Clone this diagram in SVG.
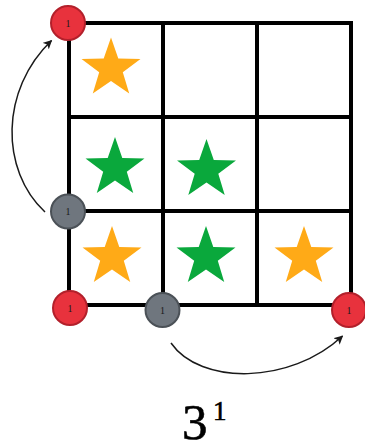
<svg xmlns="http://www.w3.org/2000/svg" width="365" height="444" viewBox="0 0 365 444">
<defs>
<style>
.grid{fill:none;stroke:#000;stroke-width:4;stroke-linecap:square}
.orange{fill:#FFAA17}
.green{fill:#0AA83C}
.red{fill:#E8323D;stroke:#B3202B;stroke-width:2}
.gray{fill:#6F767E;stroke:#4B5157;stroke-width:2}
.lbl{font-family:"Liberation Serif",serif;font-size:10px;fill:#1a1a1a;text-anchor:middle}
.arc{fill:none;stroke:#1a1a1a;stroke-width:1.5;marker-end:url(#ah)}
.cap{font-family:"Liberation Serif",serif;fill:#000;stroke:#000;stroke-width:0.6}
</style>
<marker id="ah" viewBox="0 0 10 10" refX="9" refY="5" markerWidth="9" markerHeight="9" markerUnits="userSpaceOnUse" orient="auto">
<path d="M0,0 L10,5 L0,10 L2.5,5 Z" fill="#1a1a1a"/>
</marker>
<path id="star" d="M0,-31 L7.29,-10.03 L29.48,-9.58 L11.8,3.83 L18.22,25.08 L0,12.4 L-18.22,25.08 L-11.8,3.83 L-29.48,-9.58 L-7.29,-10.03 Z"/>
</defs>
<rect width="365" height="444" fill="#fff"/>
<g id="grid">
<rect class="grid" x="69" y="23" width="282" height="282"/>
<line class="grid" x1="163" y1="23" x2="163" y2="305"/>
<line class="grid" x1="257" y1="23" x2="257" y2="305"/>
<line class="grid" x1="69" y1="117" x2="351" y2="117"/>
<line class="grid" x1="69" y1="211" x2="351" y2="211"/>
</g>
<g id="stars">
<use href="#star" class="orange" x="111" y="68.5"/>
<use href="#star" class="green" x="115" y="168"/>
<use href="#star" class="green" x="206.5" y="170"/>
<use href="#star" class="orange" x="112" y="257"/>
<use href="#star" class="green" x="206" y="257"/>
<use href="#star" class="orange" x="304" y="257"/>
</g>
<g id="connectors">
<path class="arc" d="M45,212 C0,170 0,90 51.5,40.5"/>
<path class="arc" d="M171,343 C200,385 290,385 342.5,336"/>
</g>
<g id="n-top-left">
<circle class="red" cx="68" cy="23" r="17"/>
<text class="lbl" x="68" y="26.5">1</text>
</g>
<g id="n-mid-left">
<circle class="gray" cx="68" cy="211.5" r="17"/>
<text class="lbl" x="68" y="215">1</text>
</g>
<g id="n-bottom-left">
<circle class="red" cx="70" cy="308" r="17"/>
<text class="lbl" x="70" y="311.5">1</text>
</g>
<g id="n-bottom-mid">
<circle class="gray" cx="162.5" cy="310" r="17"/>
<text class="lbl" x="162.5" y="313.5">1</text>
</g>
<g id="n-bottom-right">
<circle class="red" cx="349" cy="310" r="17"/>
<text class="lbl" x="349" y="313.5">1</text>
</g>
<g id="caption">
<text class="cap" x="182" y="439" font-size="51">3</text>
<text class="cap" x="213" y="420" font-size="27">1</text>
</g>
</svg>
